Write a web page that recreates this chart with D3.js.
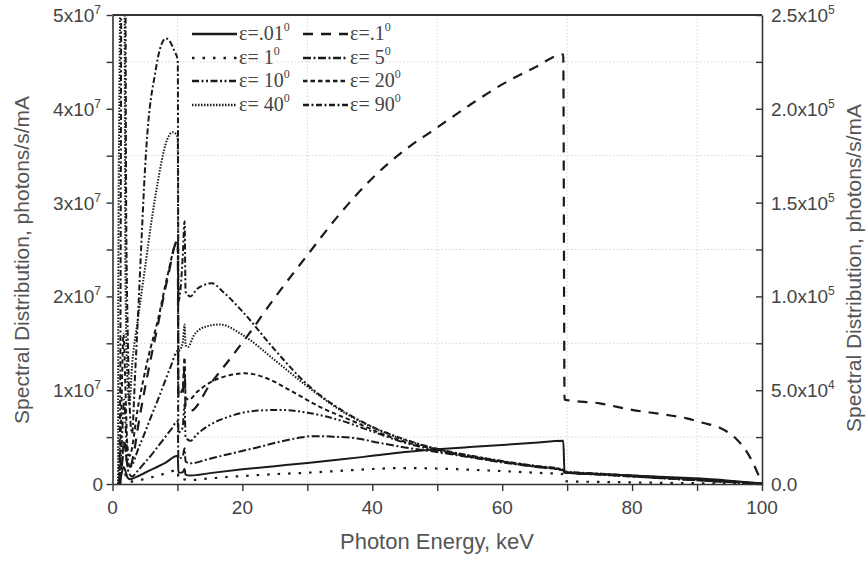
<!DOCTYPE html>
<html><head><meta charset="utf-8">
<script src="https://cdn.jsdelivr.net/npm/d3@7"></script>
<style>body{margin:0;background:#fff}</style>
</head><body>
<script>
// ---- data (left axis values in 1e6 photons/s/mA, right axis in 1e4) ----
const xTicks = [0,20,40,60,80,100];
const leftTickLabels = ["0","1x10","2x10","3x10","4x10","5x10"];
const rightTickLabels = ["0.0","5.0x10","1.0x10","1.5x10","2.0x10","2.5x10"];
const rightTickExp = ["","4","5","5","5","5"];

const eps001 = [[0.8,0],[1.3,0.4],[1.7,0.9],[2.0,0.7],[2.3,0.35],[2.7,0.25],[3.5,0.35],[5,0.6],[6.5,0.85],[8,1.1],[10.05,1.5],[10.15,0.6],[10.8,0.62],[11.1,0.8],[11.25,0.5],[12,0.45],[15,0.58],[20,0.78],[25,0.95],[30,1.12],[35,1.3],[40,1.5],[45,1.7],[50,1.85],[55,1.97],[60,2.08],[65,2.2],[69.4,2.3],[69.6,0.6],[75,0.52],[80,0.45],[85,0.37],[90,0.3],[95,0.18],[100,0.03]];
const eps01 = [[1.2,0],[1.6,1.5],[1.9,2.2],[2.2,1.2],[2.6,0.8],[3.2,1.5],[4,3.2],[5.5,6],[7,8.5],[8.5,11],[10.05,13],[10.15,4.6],[10.8,4.8],[11.1,6.2],[11.25,4.1],[12,3.9],[15,5.3],[18.6,6.9],[21,8.0],[24.7,9.8],[30,12.2],[35,14.4],[40,16.3],[45,17.8],[50,19.0],[55,20.2],[60,21.3],[65,22.2],[69.4,22.9],[69.6,4.5],[75,4.3],[80,3.95],[85,3.7],[88.4,3.5],[91,3.25],[93.5,3.0],[95,2.7],[96.2,2.35],[97.5,1.8],[98.5,1.2],[99.3,0.6],[100,0]];
const deg1 = [[1.0,0],[1.5,0.6],[1.9,1.0],[2.2,0.5],[2.7,0.25],[3.5,0.3],[5,0.55],[7,0.9],[8.5,1.2],[10.05,1.5],[10.15,0.5],[11,0.5],[11.5,0.42],[12,0.42],[15,0.6],[20,0.85],[25,1.05],[30,1.2],[35,1.4],[40,1.6],[45,1.7],[50,1.65],[55,1.52],[60,1.38],[65,1.2],[69.4,1.05],[69.6,0.3],[75,0.22],[80,0.17],[85,0.12],[90,0.08],[95,0.04],[100,0]];
const deg5 = [[1.0,0],[1.4,2],[1.8,4.5],[2.1,3],[2.5,1.2],[3,0.8],[4,1.5],[5,2.3],[6,3.1],[7,4],[8,4.9],[9,5.8],[10.05,6.7],[10.15,2.7],[10.8,2.9],[11.1,3.8],[11.25,2.4],[12,2.2],[15,2.7],[18,3.2],[22.3,3.9],[26,4.55],[28.5,4.9],[30.9,5.1],[34,5.05],[37.7,4.85],[41,4.4],[45,3.9],[50,3.4],[55,2.85],[60,2.3],[65,1.85],[69.4,1.45],[69.6,1.25],[75,1.0],[80,0.8],[85,0.6],[90,0.4],[95,0.2],[100,0.02]];
const deg10 = [[1.0,0],[1.4,4],[1.8,9],[2.1,5],[2.4,2.5],[2.7,1.8],[4,3.8],[5,5.5],[6,7.3],[7,9.0],[8,10.8],[9,12.6],[10.05,14.2],[10.15,5.5],[10.8,6.0],[11.1,8.5],[11.25,5.0],[12,4.6],[13,5.3],[15,6.3],[18,7.2],[22,7.8],[25.8,7.9],[30,7.6],[35,6.8],[40,5.6],[45,4.4],[50,3.55],[55,2.9],[60,2.35],[65,1.85],[69.4,1.45],[69.6,1.25],[75,1.0],[80,0.8],[85,0.6],[90,0.4],[95,0.2],[100,0.02]];
const deg20 = [[1.0,0],[1.3,6],[1.7,16],[2.0,10],[2.3,4],[2.6,3],[4,8.5],[5.5,13.5],[7,17.5],[8.5,22.3],[10.05,26],[10.15,9.5],[10.8,10.2],[11.1,13.5],[11.25,9.2],[11.8,9.0],[13,9.8],[15,10.8],[18,11.6],[20.4,11.8],[24,11.2],[27.3,10.0],[32,8.2],[37.7,6.5],[41,5.5],[45,4.5],[50,3.65],[55,2.95],[60,2.4],[65,1.9],[69.4,1.5],[69.6,1.3],[75,1.05],[80,0.85],[85,0.62],[90,0.42],[95,0.22],[100,0.03]];
const deg40 = [[0.85,0],[0.9,21],[1.1,45],[1.3,60],[1.8,60],[2.0,22],[2.3,11],[2.6,8.5],[3,12.5],[3.9,17.5],[5,23],[6,28],[7,32.3],[7.5,34.2],[8.4,36.7],[9.3,37.5],[10.05,37.0],[10.15,14.2],[10.8,15],[11.1,17],[11.25,14.8],[11.6,14.6],[12.5,15.8],[14,16.7],[16.6,17.0],[20,15.9],[25,13.2],[30,10.4],[35,7.9],[40,6.05],[45,4.7],[50,3.7],[55,3.0],[60,2.4],[65,1.9],[69.4,1.5],[69.6,1.3],[75,1.1],[80,0.9],[85,0.7],[90,0.5],[95,0.28],[100,0.05]];
const deg90 = [[1.0,0],[1.2,12],[1.4,60],[1.95,60],[2.1,30],[2.35,16],[2.6,9],[3.0,5.4],[3.5,12],[4,19],[4.5,26.5],[5,33.5],[5.5,38.5],[6,41.5],[6.5,43.5],[7,45.5],[7.5,46.8],[8.2,47.5],[9,47],[9.5,46.2],[10.05,45.2],[10.15,19.5],[10.8,24],[11.1,28],[11.25,20.5],[12,20],[13,20.8],[14,21.2],[15.3,21.4],[17,20.5],[20,18.4],[25,14.3],[30,10.6],[35,8.0],[40,6.1],[45,4.75],[50,3.75],[55,3.05],[60,2.45],[65,1.95],[69.4,1.55],[69.6,1.35],[75,1.1],[80,0.9],[85,0.7],[90,0.5],[95,0.3],[100,0.05]];

const series = [
  {label:".01", data:eps001, axis:"R", dash:null, w:2},
  {label:".1",  data:eps01,  axis:"R", dash:"10,8", w:2.2},
  {label:" 1",  data:deg1,   axis:"L", dash:"2.5,8", w:2.2},
  {label:" 5",  data:deg5,   axis:"L", dash:"8,2.5,2,2.5", w:2},
  {label:" 10", data:deg10,  axis:"L", dash:"7,2.5,2,2.5,2,2.5", w:2},
  {label:" 20", data:deg20,  axis:"L", dash:"4.5,3", w:2},
  {label:" 40", data:deg40,  axis:"L", dash:"1.5,1.5", w:2},
  {label:" 90", data:deg90,  axis:"L", dash:"6,2.5,2,2.5", w:2}
];

const W=866,H=563, X0=112.5, X1=762, Y0=484, Y1=15;
const svg=d3.select("body").append("svg").attr("width",W).attr("height",H);
const x=d3.scaleLinear().domain([0,100]).range([X0,X1]);
const yL=d3.scaleLinear().domain([0,5e7]).range([Y0,Y1]);
const yR=d3.scaleLinear().domain([0,2.5e5]).range([Y0,Y1]);
const font="'Liberation Sans', Arial, sans-serif";
const axisColor="#333";

// grid at minor positions
const g=svg.append("g");
[10,30,50,70,90].forEach(v=>g.append("line").attr("x1",x(v)).attr("x2",x(v)).attr("y1",Y1).attr("y2",Y0)
  .attr("stroke","#d6d6d6").attr("stroke-width",1).attr("stroke-dasharray","1.5,2"));
[5e6,15e6,25e6,35e6,45e6].forEach(v=>g.append("line").attr("x1",X0).attr("x2",X1).attr("y1",yL(v)).attr("y2",yL(v))
  .attr("stroke","#d6d6d6").attr("stroke-width",1).attr("stroke-dasharray","1.5,2"));

// clip
svg.append("clipPath").attr("id","clip").append("rect").attr("x",X0).attr("y",Y1).attr("width",X1-X0).attr("height",Y0-Y1);

const plot=svg.append("g").attr("clip-path","url(#clip)");
series.forEach(s=>{
  const ys = s.axis==="L" ? (v=>yL(v*1e6)) : (v=>yR(v*1e4));
  const line=d3.line().curve(d3.curveMonotoneX).x(d=>x(d[0])).y(d=>ys(d[1]));
  plot.append("path").datum(s.data).attr("d",line).attr("fill","none")
    .attr("stroke","#1a1a1a").attr("stroke-width",s.w)
    .attr("stroke-dasharray",s.dash).attr("stroke-linejoin","round");
});

// axes
function styleAxis(sel){
  sel.selectAll("path").attr("stroke",axisColor).attr("stroke-width",1.6);
  sel.selectAll("line").attr("stroke",axisColor).attr("stroke-width",1.4);
  sel.selectAll("text").remove();
}
const xTickVals=d3.range(0,101,10);
svg.append("g").attr("transform",`translate(0,${Y0})`)
  .call(d3.axisBottom(x).tickValues(xTickVals).tickSize(7).tickSizeOuter(0)).call(styleAxis);
svg.append("g").attr("transform",`translate(${X0},0)`)
  .call(d3.axisLeft(yL).tickValues(d3.range(0,5e7+1,5e6)).tickSize(6).tickSizeOuter(0)).call(styleAxis);
svg.append("g").attr("transform",`translate(${X1},0)`)
  .call(d3.axisLeft(yR).tickValues(d3.range(0,2.5e5+1,2.5e4)).tickSize(6).tickSizeOuter(0)).call(styleAxis);
// top frame
svg.append("line").attr("x1",X0).attr("x2",X1).attr("y1",Y1).attr("y2",Y1).attr("stroke",axisColor).attr("stroke-width",1.8);

// tick labels
const tickFs=19, supFs=12;
xTicks.forEach(v=>svg.append("text").attr("x",x(v)).attr("y",514).attr("text-anchor","middle")
  .attr("font-family",font).attr("font-size",tickFs).attr("fill","#444").text(v));
leftTickLabels.forEach((t,i)=>{
  const tx=svg.append("text").attr("x",i===0?103:101).attr("y",yL(i*1e7)+7).attr("text-anchor","end")
    .attr("font-family",font).attr("font-size",tickFs).attr("fill","#444");
  tx.append("tspan").text(t);
  if(i>0) tx.append("tspan").attr("dy",-8).attr("font-size",supFs).text("7");
});
rightTickLabels.forEach((t,i)=>{
  const tx=svg.append("text").attr("x",771).attr("y",yR(i*5e4)+7)
    .attr("font-family",font).attr("font-size",tickFs).attr("fill","#444");
  tx.append("tspan").text(t);
  if(rightTickExp[i]) tx.append("tspan").attr("dy",-8).attr("font-size",supFs).text(rightTickExp[i]);
});

// axis titles
const titleFs=21;
svg.append("text").attr("transform","translate(29,260) rotate(-90)").attr("text-anchor","middle")
  .attr("font-family",font).attr("font-size",titleFs).attr("fill","#555").text("Spectral Distribution, photons/s/mA");
svg.append("text").attr("transform","translate(861,268) rotate(-90)").attr("text-anchor","middle")
  .attr("font-family",font).attr("font-size",titleFs).attr("fill","#555").text("Spectral Distribution, photons/s/mA");
svg.append("text").attr("x",437).attr("y",549).attr("text-anchor","middle")
  .attr("font-family",font).attr("font-size",titleFs+1).attr("fill","#555").text("Photon Energy, keV");

// legend
const lg=svg.append("g");
const rowsY=[34,58,81,105];
series.forEach((s,i)=>{
  const col=i%2, row=Math.floor(i/2);
  const yy=rowsY[row];
  const lx0= col===0?192:303, lx1= col===0?237:348, tx= col===0?239:350;
  lg.append("line").attr("x1",lx0).attr("x2",lx1).attr("y1",yy).attr("y2",yy)
    .attr("stroke","#1a1a1a").attr("stroke-width",s.w+0.4).attr("stroke-dasharray",s.dash);
  const t=lg.append("text").attr("x",tx).attr("y",yy+6).attr("font-family","'Liberation Serif', 'Times New Roman', serif")
    .attr("font-size",20).attr("fill","#444");
  t.append("tspan").text("ε="+s.label);
  t.append("tspan").attr("dy",-9).attr("font-size",12).text("0");
});
</script>
</body></html>
